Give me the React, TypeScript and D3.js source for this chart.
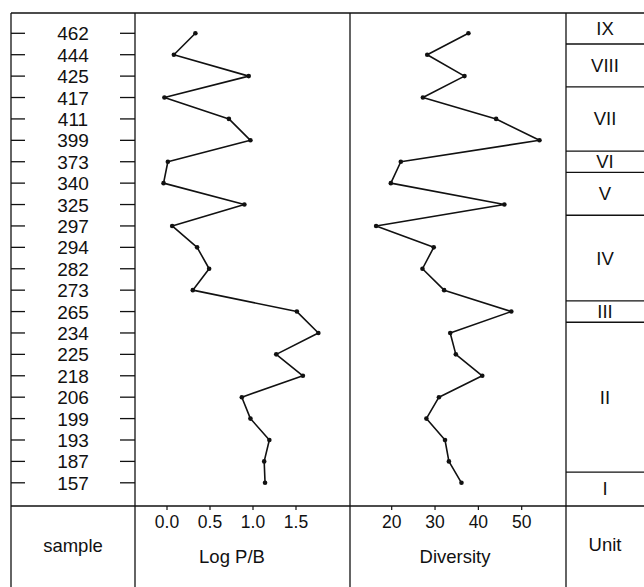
import React from "react";
import * as d3 from "d3";

const samples = ["462","444","425","417","411","399","373","340","325","297","294","282","273","265","234","225","218","206","199","193","187","157"];
const logPB = [0.33,0.08,0.95,-0.03,0.72,0.97,0.01,-0.04,0.90,0.06,0.35,0.49,0.30,1.51,1.76,1.27,1.58,0.87,0.97,1.19,1.13,1.14];
const diversity = [37.7,28.2,36.8,27.2,44.1,54.1,22.1,19.8,46.0,16.4,29.7,27.1,32.1,47.6,33.5,34.8,40.9,30.9,28.0,32.3,33.2,36.1];
const logTicks = [0, 0.5, 1.0, 1.5];
const divTicks = [20, 30, 40, 50];
const unitNames = ["IX","VIII","VII","VI","V","IV","III","II","I"];
const unitTop = [-1, 0.5, 2.5, 5.5, 6.5, 8.5, 12.5, 13.5, 20.5];
const unitBottom = [0.5, 2.5, 5.5, 6.5, 8.5, 12.5, 13.5, 20.5, 22];

const W = 644, H = 587;
const TOP = 13, BOT = 506, LEFT = 11;
const C1 = 135, C2 = 350, C3 = 566;
const FONT = "'Liberation Sans', Arial, Helvetica, sans-serif";

export default function App() {
  const y = d3.scalePoint<string>().domain(samples).range([33.3, 482.8]);
  const yIdx = d3.scaleLinear().domain([0, samples.length - 1]).range([33.3, 482.8]);
  const xLog = d3.scaleLinear().domain([0, 1.5]).range([167, 296]);
  const xDiv = d3.scaleLinear().domain([20, 50]).range([391.7, 521.7]);

  const logLine = d3.line<number>().x((d) => xLog(d)).y((_, i) => y(samples[i])!);
  const divLine = d3.line<number>().x((d) => xDiv(d)).y((_, i) => y(samples[i])!);

  const clampY = (v: number) => Math.max(TOP, Math.min(BOT, v));

  return (
    <svg width={W} height={H} style={{ position: "absolute", left: 0, top: 0, background: "#fff" }} fontFamily={FONT}>
      <rect x={0} y={0} width={W} height={H} fill="#fff" />
      {/* frame */}
      <g stroke="#111" strokeWidth={1.3} fill="none">
        <line x1={LEFT} y1={TOP} x2={W} y2={TOP} />
        <line x1={LEFT} y1={BOT} x2={W} y2={BOT} />
        <line x1={LEFT} y1={TOP} x2={LEFT} y2={H} />
        <line x1={C1} y1={TOP} x2={C1} y2={H} />
        <line x1={C2} y1={TOP} x2={C2} y2={H} />
        <line x1={C3} y1={TOP} x2={C3} y2={H} />
      </g>
      {/* sample column */}
      {samples.map((s) => (
        <g key={s}>
          <line x1={LEFT} x2={25} y1={y(s)} y2={y(s)} stroke="#111" strokeWidth={1.3} />
          <line x1={120} x2={C1} y1={y(s)} y2={y(s)} stroke="#111" strokeWidth={1.3} />
          <text x={73} y={y(s)! + 7} textAnchor="middle" fontSize={19} fill="#111">{s}</text>
        </g>
      ))}
      {/* Log P/B */}
      <path d={logLine(logPB) || ""} fill="none" stroke="#111" strokeWidth={1.6} strokeLinejoin="round" />
      {logPB.map((v, i) => (
        <circle key={"l" + i} cx={xLog(v)} cy={y(samples[i])} r={2.3} fill="#111" />
      ))}
      {logTicks.map((t) => (
        <g key={"lt" + t}>
          <line x1={xLog(t)} x2={xLog(t)} y1={BOT} y2={BOT + 4} stroke="#111" strokeWidth={1.2} />
          <text x={xLog(t)} y={528} textAnchor="middle" fontSize={17.5} fill="#111">{d3.format(".1f")(t)}</text>
        </g>
      ))}
      {/* Diversity */}
      <path d={divLine(diversity) || ""} fill="none" stroke="#111" strokeWidth={1.6} strokeLinejoin="round" />
      {diversity.map((v, i) => (
        <circle key={"d" + i} cx={xDiv(v)} cy={y(samples[i])} r={2.3} fill="#111" />
      ))}
      {divTicks.map((t) => (
        <g key={"dt" + t}>
          <line x1={xDiv(t)} x2={xDiv(t)} y1={BOT} y2={BOT + 4} stroke="#111" strokeWidth={1.2} />
          <text x={xDiv(t)} y={528} textAnchor="middle" fontSize={17.5} fill="#111">{t}</text>
        </g>
      ))}
      {/* Units */}
      {unitNames.map((u, i) => {
        const t = clampY(yIdx(unitTop[i]));
        const b = clampY(yIdx(unitBottom[i]));
        return (
          <g key={u}>
            {i < unitNames.length - 1 && (
              <line x1={C3} x2={W} y1={b} y2={b} stroke="#111" strokeWidth={1.3} />
            )}
            <text x={605} y={(t + b) / 2 + 6.5} textAnchor="middle" fontSize={18.5} fill="#111">{u}</text>
          </g>
        );
      })}
      {/* bottom labels */}
      <text x={73} y={552} textAnchor="middle" fontSize={18.5} fill="#111">sample</text>
      <text x={232} y={563} textAnchor="middle" fontSize={18.5} fill="#111">Log P/B</text>
      <text x={455} y={563} textAnchor="middle" fontSize={18.5} fill="#111">Diversity</text>
      <text x={605} y={551} textAnchor="middle" fontSize={18.5} fill="#111">Unit</text>
    </svg>
  );
}
